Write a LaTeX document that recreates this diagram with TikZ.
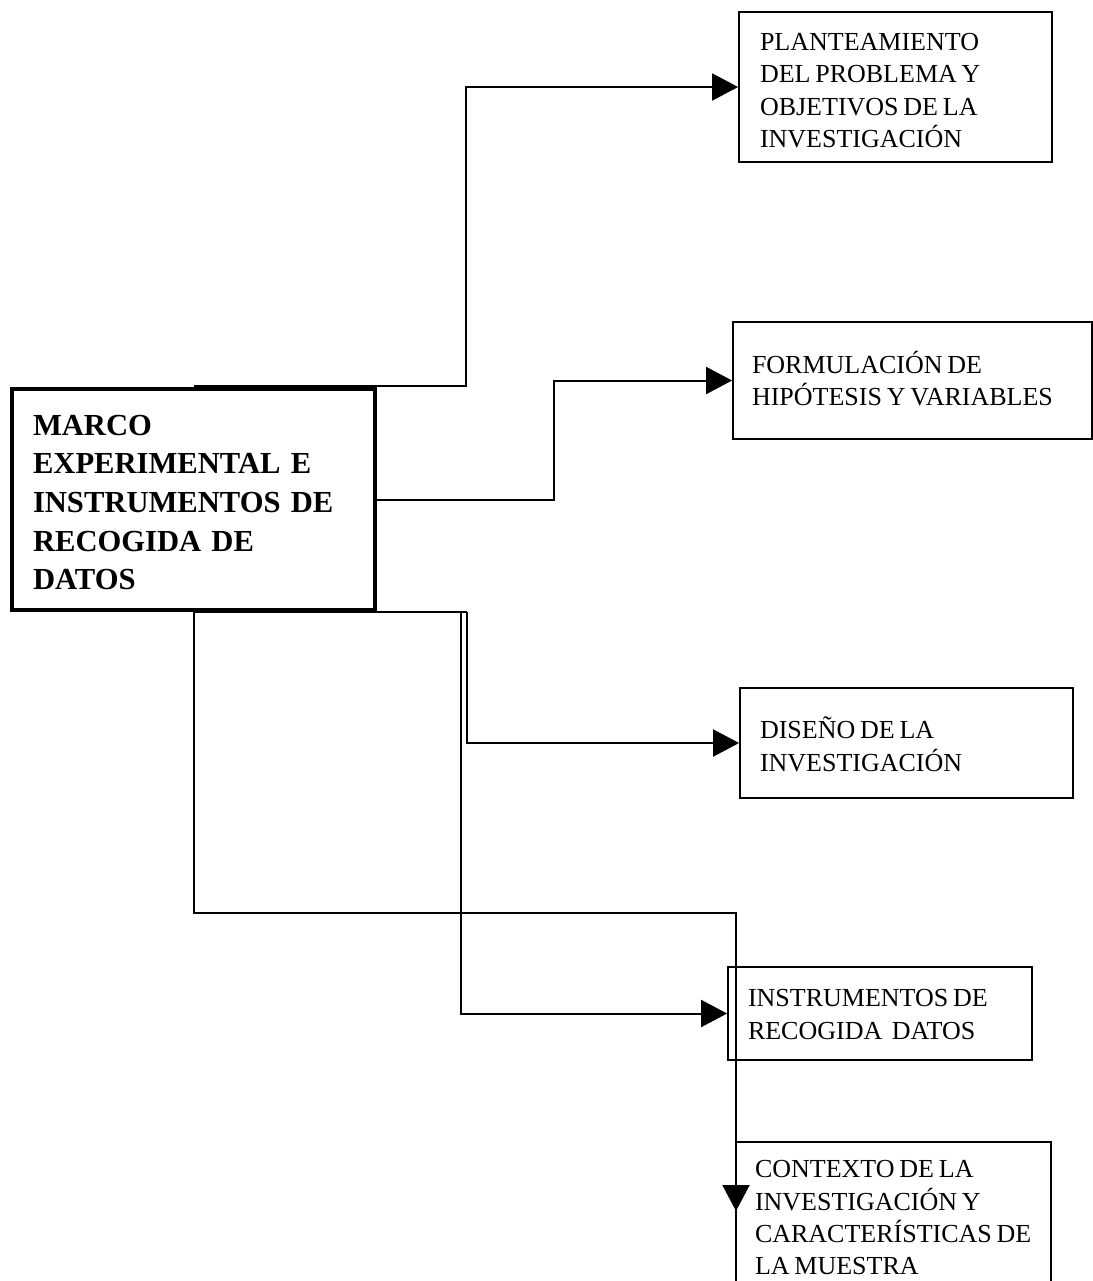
\documentclass[tikz,border=0pt]{standalone}
\usepackage{fontspec}
\setmainfont{Liberation Serif}
\usetikzlibrary{arrows.meta}
\newcommand\narrowspaces{\spaceskip=2.4pt plus 0.5pt\relax}
\begin{document}
\begin{tikzpicture}[x=0.5pt,y=-0.5pt,
  box/.style={draw, line width=0.9pt, align=left, inner ysep=0pt,
    font=\fontsize{13}{16.2}\selectfont, execute at begin node=\narrowspaces},
  mainbox/.style={draw, line width=1.7pt, align=left, inner ysep=0pt,
    font=\bfseries\fontsize{15.3}{19.3}\selectfont},
  wire/.style={line width=1pt},
  link/.style={wire, -{Triangle[length=13pt,width=13.5pt]}}]

\useasboundingbox (0,0) rectangle (1093,1281);

% central block
\node (main) at (193.5,499.5) [mainbox, minimum width=181.5pt, minimum height=110.5pt,
  text width=160.5pt, inner xsep=10.5pt, text height=13pt, text depth=77.2pt]
  {MARCO\\EXPERIMENTAL E\\INSTRUMENTOS DE\\RECOGIDA DE\\DATOS};

% stages
\node (b1) at (895.5,87) [box, minimum width=156.5pt, minimum height=75pt,
  text width=135.5pt, inner xsep=10.5pt, text height=11.8pt, text depth=48.6pt]
  {PLANTEAMIENTO\\DEL PROBLEMA Y\\OBJETIVOS DE LA\\INVESTIGACIÓN};
\node (b2) at (912.5,380.5) [box, minimum width=179.5pt, minimum height=58.5pt,
  text width=160.5pt, inner xsep=9.5pt, text height=9.2pt, text depth=16.2pt]
  {FORMULACIÓN DE\\HIPÓTESIS Y VARIABLES};
\node (b3) at (906.5,743) [box, minimum width=166.5pt, minimum height=55pt,
  text width=146.5pt, inner xsep=10pt, text height=11.8pt, text depth=16.2pt]
  {DISEÑO DE LA\\INVESTIGACIÓN};
\node (b4) at (880,1013.5) [box, minimum width=152pt, minimum height=46.5pt,
  text width=132pt, inner xsep=10pt, text height=9.4pt, text depth=16.2pt]
  {INSTRUMENTOS DE\\RECOGIDA\ \ DATOS};
\node (b5) at (893.5,1216) [box, minimum width=157.5pt, minimum height=74pt,
  text width=138.5pt, inner xsep=9.5pt, text height=10.3pt, text depth=48.6pt]
  {CONTEXTO DE LA\\INVESTIGACIÓN Y\\\mbox{CARACTERÍSTICAS DE}\\LA MUESTRA};

% junction points of the connectors
\coordinate (t0) at (194,386);
\coordinate (t1) at (466,386);
\coordinate (k2) at (554,499.5);
\coordinate (u0) at (194,612);
\coordinate (u1) at (467,612);
\coordinate (u2) at (461,612);
\coordinate (d1) at (736,913);
\coordinate (d2) at (736,1211);

% connectors
\draw[link] (t0) -- (t1) |- (b1.west);
\draw[link] (main.east) -- (k2) |- (b2.west);
\draw[wire] (u0) -- (u1);
\draw[link] (u1) |- (b3.west);
\draw[link] (u2) |- (b4.west);
\draw[link] (u0) |- (d1) -- (d2);

\end{tikzpicture}
\end{document}
